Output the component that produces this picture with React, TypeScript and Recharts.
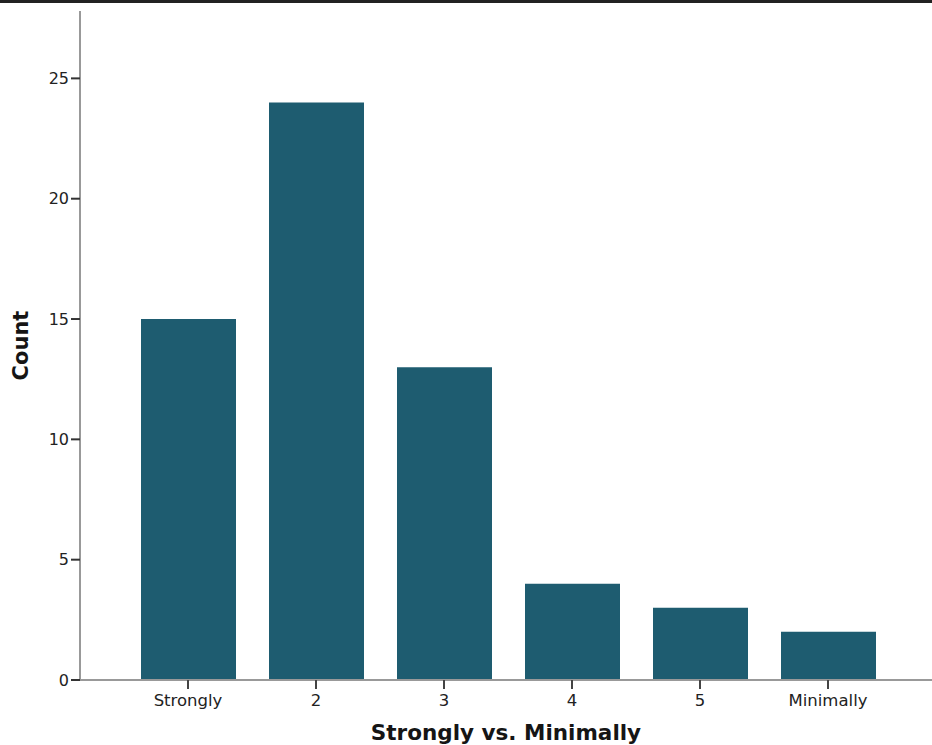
import React from 'react';
import { BarChart, Bar, XAxis, YAxis, Label } from 'recharts';

const categories = ['Strongly', '2', '3', '4', '5', 'Minimally'];
const counts = [15, 24, 13, 4, 3, 2];
const yTicks = [0, 5, 10, 15, 20, 25];

const data = categories.map((c, i) => ({ category: c, count: counts[i] }));

const FONT = '"DejaVu Sans", sans-serif';

export default function App() {
  return (
    <div
      style={{
        position: 'absolute',
        top: 0,
        left: 0,
        width: 932,
        height: 745,
        background: '#fff',
        borderTop: '3px solid #222',
        boxSizing: 'border-box',
        overflow: 'hidden',
        fontFamily: FONT,
      }}
    >
      <BarChart width={932} height={742} data={data} margin={{ top: 8, right: 0, bottom: 0, left: 0 }}>
        {/* eixo X com categorias */}
        <XAxis
          dataKey="category"
          height={65}
          padding={{ left: 44, right: 40 }}
          axisLine={{ stroke: '#999', strokeWidth: 2 }}
          tickLine={{ stroke: '#444', strokeWidth: 2 }}
          tickSize={9}
          tickMargin={5}
          tick={{ fontSize: 16.5, fill: '#222', fontFamily: FONT }}
        >
          <Label
            value="Strongly vs. Minimally"
            position="insideBottom"
            offset={5}
            style={{ fontSize: 21.5, fill: '#151515', fontFamily: FONT, fontWeight: 700 }}
          />
        </XAxis>
        <YAxis
          width={80}
          domain={[0, 27.8]}
          ticks={yTicks}
          allowDataOverflow
          axisLine={{ stroke: '#999', strokeWidth: 2 }}
          tickLine={{ stroke: '#333', strokeWidth: 2 }}
          tickSize={9}
          tickMargin={2}
          tick={{ fontSize: 16, fill: '#222', fontFamily: FONT }}
        >
          <Label
            content={({ viewBox }: any) => {
              const cy = viewBox.y + viewBox.height / 2;
              return (
                <text
                  x={21}
                  y={cy}
                  transform={`rotate(-90, 21, ${cy})`}
                  textAnchor="middle"
                  dominantBaseline="central"
                  style={{ fontSize: 21, fill: '#151515', fontFamily: FONT, fontWeight: 700 }}
                >
                  Count
                </text>
              );
            }}
          />
        </YAxis>
        <Bar dataKey="count" fill="#1e5c70" barSize={95} isAnimationActive={false} />
      </BarChart>
    </div>
  );
}
